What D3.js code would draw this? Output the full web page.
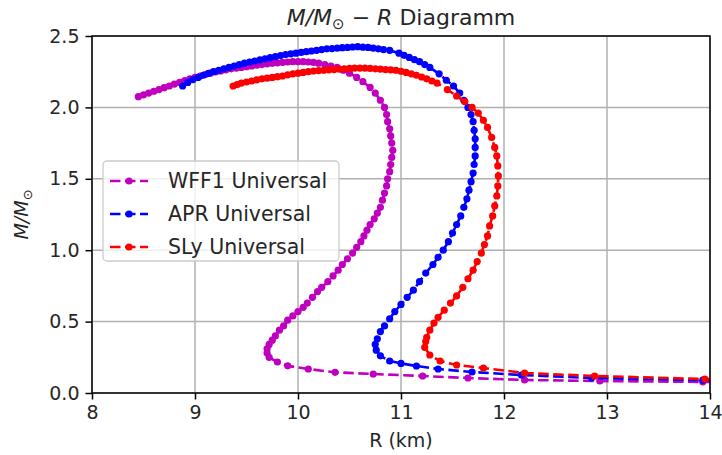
<!DOCTYPE html>
<html>
<head>
<meta charset="utf-8">
<script src="https://cdn.jsdelivr.net/npm/d3@7"></script>
<style>
  body { margin: 0; background: #ffffff; }
  svg { display: block; }
  text { font-family: "DejaVu Sans", sans-serif; fill: #262626; }
</style>
</head>
<body>
<svg id="chart" width="722" height="455"></svg>
<script>
// ---------------- data (R in km, M in solar masses) ----------------
const seriesNames = ["WFF1 Universal", "APR Universal", "SLy Universal"];
const seriesColors = ["#bf00bf", "#0000ff", "#ff0000"];

const wff1 = [
  [15.2,0.07],[13.93,0.078],[12.93,0.084],[12.2,0.091],[11.65,0.105],[11.21,0.119],[10.73,0.133],
  [10.36,0.145],[10.1,0.168],[9.9,0.19],[9.8,0.217],[9.72,0.25],[9.70,0.28],[9.70,0.31],
  [9.72,0.34],[9.75,0.37],[9.78,0.40],[9.82,0.44],[9.86,0.47],[9.90,0.51],[9.95,0.54],
  [10.0,0.57],[10.05,0.60],[10.09,0.63],[10.14,0.67],[10.19,0.71],[10.23,0.74],[10.29,0.78],
  [10.34,0.82],[10.39,0.86],[10.43,0.90],[10.48,0.94],[10.53,0.98],[10.57,1.02],[10.61,1.06],
  [10.64,1.10],[10.67,1.14],[10.70,1.18],[10.74,1.22],[10.77,1.26],[10.80,1.30],[10.82,1.35],
  [10.84,1.40],[10.86,1.45],[10.87,1.50],[10.89,1.55],[10.90,1.60],[10.91,1.65],[10.92,1.70],
  [10.91,1.75],[10.90,1.80],[10.89,1.85],[10.87,1.90],[10.86,1.95],[10.84,2.0],[10.80,2.05],
  [10.75,2.10],[10.70,2.14],[10.63,2.18],[10.57,2.21],[10.50,2.24],[10.44,2.26],[10.38,2.28],
  [10.32,2.29],[10.26,2.30],[10.20,2.31],[10.15,2.315],[10.10,2.318],[10.05,2.32],[10.00,2.32],
  [9.95,2.32],[9.90,2.318],[9.85,2.315],[9.80,2.312],[9.75,2.31],[9.70,2.305],[9.65,2.30],
  [9.60,2.295],[9.55,2.29],[9.50,2.285],[9.45,2.28],[9.40,2.275],[9.35,2.27],[9.30,2.263],
  [9.25,2.255],[9.20,2.248],[9.15,2.24],[9.10,2.23],[9.05,2.22],[9.00,2.21],[8.95,2.20],
  [8.90,2.188],[8.85,2.175],[8.80,2.163],[8.75,2.15],[8.70,2.138],[8.65,2.125],[8.60,2.113],
  [8.55,2.10],[8.50,2.088],[8.45,2.075]
];

const apr = [
  [15.2,0.08],[13.93,0.09],[12.85,0.105],[12.17,0.126],[11.69,0.147],[11.36,0.168],[11.15,0.189],
  [11.0,0.207],[10.89,0.224],[10.8,0.26],[10.76,0.30],[10.75,0.34],[10.77,0.38],[10.80,0.43],
  [10.84,0.47],[10.89,0.52],[10.94,0.57],[11.0,0.62],[11.06,0.67],[11.12,0.72],[11.18,0.78],
  [11.24,0.84],[11.31,0.90],[11.36,0.95],[11.41,1.0],[11.46,1.06],[11.50,1.12],[11.54,1.18],
  [11.58,1.24],[11.61,1.30],[11.64,1.36],[11.66,1.42],[11.68,1.48],[11.70,1.54],[11.71,1.60],
  [11.72,1.66],[11.72,1.72],[11.72,1.78],[11.71,1.84],[11.70,1.90],[11.68,1.95],[11.65,2.0],
  [11.61,2.05],[11.57,2.10],[11.51,2.15],[11.44,2.19],[11.37,2.235],[11.28,2.28],[11.23,2.30],
  [11.18,2.32],[11.13,2.335],[11.08,2.35],[11.03,2.365],[10.98,2.38],[10.89,2.40],[10.83,2.405],
  [10.78,2.41],[10.73,2.415],[10.68,2.42],[10.63,2.422],[10.58,2.425],[10.53,2.423],[10.48,2.42],
  [10.43,2.418],[10.38,2.415],[10.33,2.412],[10.28,2.41],[10.23,2.405],[10.18,2.40],[10.13,2.395],
  [10.08,2.39],[10.03,2.385],[9.98,2.38],[9.93,2.375],[9.88,2.37],[9.83,2.363],[9.78,2.355],
  [9.73,2.348],[9.68,2.34],[9.63,2.333],[9.58,2.325],[9.53,2.318],[9.48,2.31],[9.43,2.30],
  [9.38,2.29],[9.33,2.28],[9.28,2.27],[9.23,2.26],[9.18,2.25],[9.13,2.238],[9.08,2.225],
  [9.03,2.21],[8.98,2.195],[8.93,2.175],[8.88,2.15]
];

const sly = [
  [15.2,0.085],[13.95,0.098],[12.88,0.119],[12.2,0.14],[11.8,0.175],[11.54,0.196],[11.38,0.224],
  [11.28,0.266],[11.23,0.32],[11.24,0.36],[11.25,0.39],[11.28,0.44],[11.32,0.49],[11.36,0.53],
  [11.42,0.58],[11.48,0.63],[11.54,0.68],[11.60,0.74],[11.65,0.80],[11.70,0.86],[11.74,0.92],
  [11.78,0.98],[11.81,1.04],[11.84,1.10],[11.86,1.17],[11.89,1.24],[11.91,1.31],[11.93,1.38],
  [11.94,1.45],[11.945,1.52],[11.94,1.59],[11.93,1.66],[11.91,1.72],[11.88,1.79],[11.84,1.86],
  [11.80,1.91],[11.75,1.96],[11.69,2.0],[11.62,2.04],[11.54,2.08],[11.45,2.125],[11.35,2.17],
  [11.30,2.185],[11.25,2.20],[11.20,2.213],[11.15,2.225],[11.10,2.235],[11.05,2.245],[11.00,2.253],
  [10.95,2.26],[10.90,2.263],[10.85,2.265],[10.80,2.268],[10.75,2.27],[10.70,2.273],[10.65,2.275],
  [10.60,2.275],[10.55,2.275],[10.50,2.273],[10.45,2.27],[10.40,2.268],[10.35,2.265],[10.30,2.263],
  [10.25,2.26],[10.20,2.258],[10.15,2.255],[10.10,2.25],[10.05,2.245],[10.00,2.24],[9.95,2.235],
  [9.90,2.228],[9.85,2.22],[9.80,2.215],[9.75,2.21],[9.70,2.205],[9.65,2.20],[9.60,2.193],
  [9.55,2.185],[9.50,2.178],[9.45,2.17],[9.41,2.16],[9.37,2.15]
];

const xTicks = [8, 9, 10, 11, 12, 13, 14];
const yTicks = [0.0, 0.5, 1.0, 1.5, 2.0, 2.5];

// ---------------- layout ----------------
const svg = d3.select("#chart");
const margin = {left: 92, right: 12, top: 36, bottom: 62};
const W = 722, H = 455;
const x = d3.scaleLinear().domain([8, 14]).range([margin.left, W - margin.right]);
const y = d3.scaleLinear().domain([0, 2.5]).range([H - margin.bottom, margin.top]);
const fs = 19;

svg.append("defs").append("clipPath").attr("id", "clip")
  .append("rect").attr("x", x(8)).attr("y", y(2.5))
  .attr("width", x(14) - x(8)).attr("height", y(0) - y(2.5));

// grid
const grid = svg.append("g");
xTicks.forEach(t => grid.append("line")
  .attr("x1", x(t)).attr("x2", x(t)).attr("y1", y(0)).attr("y2", y(2.5))
  .attr("stroke", "#b0b0b0").attr("stroke-width", 1.5));
yTicks.forEach(t => grid.append("line")
  .attr("x1", x(8)).attr("x2", x(14)).attr("y1", y(t)).attr("y2", y(t))
  .attr("stroke", "#b0b0b0").attr("stroke-width", 1.5));

// data
const dataAll = [wff1, apr, sly];
const line = d3.line().x(d => x(d[0])).y(d => y(d[1]));
const plot = svg.append("g").attr("clip-path", "url(#clip)");
dataAll.forEach((data, i) => {
  const g = plot.append("g");
  g.append("path").datum(data).attr("d", line)
    .attr("fill", "none").attr("stroke", seriesColors[i])
    .attr("stroke-width", 2.6).attr("stroke-dasharray", "10.5,4.5");
  g.selectAll("circle").data(data).join("circle")
    .attr("cx", d => x(d[0])).attr("cy", d => y(d[1])).attr("r", 3.6)
    .attr("fill", seriesColors[i]);
});

// axes
const xAxis = d3.axisBottom(x).tickValues(xTicks).tickFormat(d3.format("d"))
  .tickSize(6.5).tickPadding(6);
const yAxis = d3.axisLeft(y).tickValues(yTicks).tickFormat(d3.format(".1f"))
  .tickSize(6.5).tickPadding(6);
const gx = svg.append("g").attr("transform", `translate(0,${y(0)})`).call(xAxis);
const gy = svg.append("g").attr("transform", `translate(${x(8)},0)`).call(yAxis);
[gx, gy].forEach(g => {
  g.select(".domain").remove();
  g.selectAll(".tick line").attr("stroke", "#000").attr("stroke-width", 1.5);
  g.selectAll(".tick text").attr("font-size", fs).attr("fill", "#262626")
    .attr("font-family", "DejaVu Sans");
});

// frame
svg.append("rect").attr("x", x(8)).attr("y", y(2.5))
  .attr("width", x(14) - x(8)).attr("height", y(0) - y(2.5))
  .attr("fill", "none").attr("stroke", "#000").attr("stroke-width", 1.5);

// title
const title = svg.append("text").attr("x", (x(8) + x(14)) / 2).attr("y", 25)
  .attr("text-anchor", "middle").attr("font-size", 22);
title.append("tspan").attr("font-style", "italic").text("M/M");
title.append("tspan").attr("font-size", 15).attr("dy", 4).text("\u2299");
title.append("tspan").attr("dy", -4).text(" \u2212 ");
title.append("tspan").attr("font-style", "italic").text("R");
title.append("tspan").text(" Diagramm");

// x label
svg.append("text").attr("x", (x(8) + x(14)) / 2).attr("y", 447)
  .attr("text-anchor", "middle").attr("font-size", fs).text("R (km)");

// y label
const yl = svg.append("text")
  .attr("transform", `translate(28,${(y(0) + y(2.5)) / 2}) rotate(-90)`)
  .attr("text-anchor", "middle").attr("font-size", fs);
yl.append("tspan").attr("font-style", "italic").text("M/M");
yl.append("tspan").attr("font-size", 13).attr("dy", 4).text("\u2299");

// legend
const lg = svg.append("g");
lg.append("rect").attr("x", 103).attr("y", 161).attr("width", 236).attr("height", 100)
  .attr("rx", 4).attr("fill", "#fff").attr("fill-opacity", 0.8)
  .attr("stroke", "#cccccc").attr("stroke-width", 1.3);
seriesNames.forEach((name, i) => {
  const yy = 181 + i * 33;
  lg.append("line").attr("x1", 110).attr("x2", 148).attr("y1", yy).attr("y2", yy)
    .attr("stroke", seriesColors[i]).attr("stroke-width", 2.6).attr("stroke-dasharray", "10.5,4.5");
  lg.append("circle").attr("cx", 129).attr("cy", yy).attr("r", 3.6).attr("fill", seriesColors[i]);
  lg.append("text").attr("x", 168).attr("y", yy + 7).attr("font-size", 20.5).text(name);
});
</script>
</body>
</html>
